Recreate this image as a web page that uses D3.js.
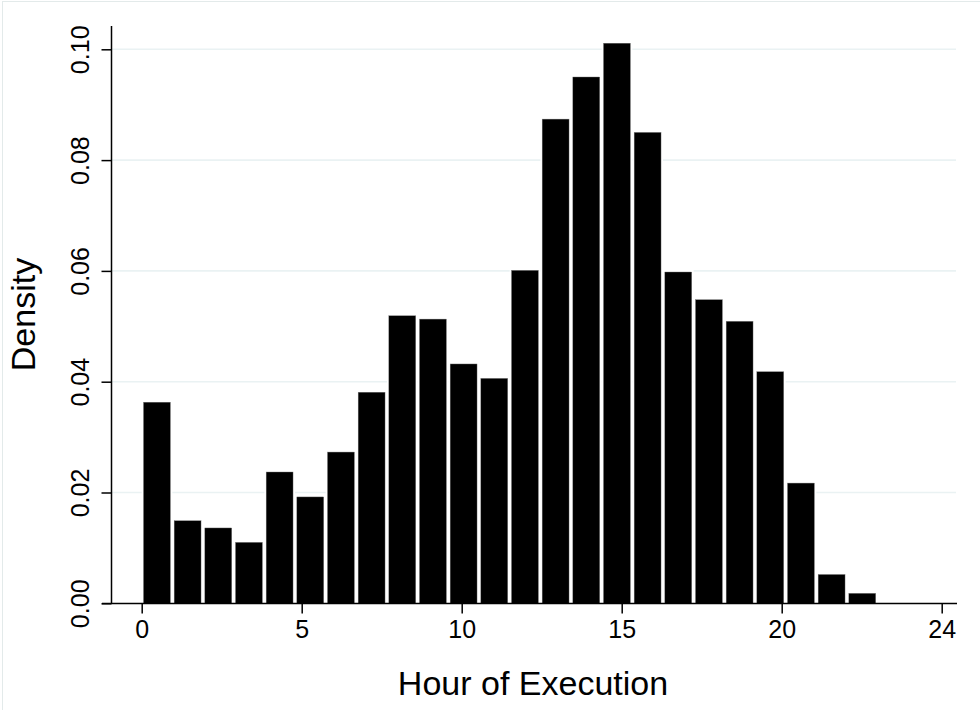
<!DOCTYPE html>
<html>
<head>
<meta charset="utf-8">
<script src="https://cdn.jsdelivr.net/npm/d3@7"></script>
<style>
  html, body { margin: 0; padding: 0; background: #fff; }
  svg { display: block; }
  text { font-family: "Liberation Sans", Arial, Helvetica, sans-serif; fill: #000; }
</style>
</head>
<body>
<svg id="chart" width="980" height="710"></svg>
<script>
// ---- data ----
const hourBins = [0,1,2,3,4,5,6,7,8,9,10,11,12,13,14,15,16,17,18,19,20,21,22,23];
const density = [0.0363, 0.0149, 0.0136, 0.0110, 0.0237, 0.0192, 0.0273, 0.0381,
                 0.0519, 0.0513, 0.0432, 0.0406, 0.0601, 0.0874, 0.0950, 0.1011,
                 0.0850, 0.0598, 0.0548, 0.0509, 0.0418, 0.0217, 0.0052, 0.0018];
const binWidth = 23 / 24;           // 24 bins over 0..23
const xTickValues = [0, 5, 10, 15, 20, 25];
const xTickLabels = ["0", "5", "10", "15", "20", "24"];
const yTickValues = [0, 0.02, 0.04, 0.06, 0.08, 0.10];
const yTickLabels = ["0.00", "0.02", "0.04", "0.06", "0.08", "0.10"];
const xTitle = "Hour of Execution";
const yTitle = "Density";

// ---- layout ----
const svg = d3.select("#chart");
const x = d3.scaleLinear().domain([0, 25]).range([141.7, 941.7]);
const y = d3.scaleLinear().domain([0, 0.10]).range([603.3, 49.3]);

// outer graph border
svg.append("rect").attr("x", 2.5).attr("y", 1.5).attr("width", 990).attr("height", 720)
  .attr("fill", "none").attr("stroke", "#e3eaea").attr("stroke-width", 1);

// gridlines
svg.append("g").selectAll("line").data(yTickValues.filter(d => d > 0)).join("line")
  .attr("x1", 112).attr("x2", 956)
  .attr("y1", d => y(d)).attr("y2", d => y(d))
  .attr("stroke", "#eaf2f3").attr("stroke-width", 1.6);

// bars
const bars = svg.append("g");
bars.selectAll("rect.pad").data(hourBins).join("rect").attr("class", "pad")
  .attr("x", (d) => x(d * binWidth))
  .attr("width", x(binWidth) - x(0))
  .attr("y", (d, i) => y(density[i]) - 2.5)
  .attr("height", (d, i) => y(0) - y(density[i]) + 2.5)
  .attr("fill", "#fff");
bars.selectAll("rect.bar").data(hourBins).join("rect").attr("class", "bar")
  .attr("x", (d) => x(d * binWidth) + 1.8)
  .attr("width", x(binWidth) - x(0) - 3.8)
  .attr("y", (d, i) => y(density[i]))
  .attr("height", (d, i) => y(0) - y(density[i]))
  .attr("fill", "#000")
  .attr("stroke", "#777").attr("stroke-width", 0.4);

// y axis
const yAxis = d3.axisLeft(y).tickValues(yTickValues).tickSize(10).tickPadding(0)
  .tickFormat((d, i) => yTickLabels[i]);
const gy = svg.append("g").attr("transform", "translate(111.5,0)").call(yAxis);
gy.select(".domain").remove();
gy.append("line").attr("x1", 0).attr("x2", 0).attr("y1", 26).attr("y2", 604)
  .attr("stroke", "#000").attr("stroke-width", 1.5);
gy.selectAll(".tick line").attr("stroke", "#000").attr("stroke-width", 1.5);
gy.selectAll(".tick text")
  .attr("x", 0).attr("dy", null).attr("y", 0)
  .attr("transform", "translate(-23,0) rotate(-90)")
  .attr("text-anchor", "middle")
  .style("font-size", "25px")
  .style("font-family", "'Liberation Sans', Arial, sans-serif");

// x axis
const xAxis = d3.axisBottom(x).tickValues(xTickValues).tickSize(10).tickPadding(7)
  .tickFormat((d, i) => xTickLabels[i]);
const gx = svg.append("g").attr("transform", "translate(0,603.5)").call(xAxis);
gx.select(".domain").remove();
gx.append("line").attr("x1", 102).attr("x2", 957).attr("y1", 0).attr("y2", 0)
  .attr("stroke", "#000").attr("stroke-width", 1.5);
gx.selectAll(".tick line").attr("stroke", "#000").attr("stroke-width", 1.5);
gx.selectAll(".tick text")
  .style("font-size", "25px")
  .style("font-family", "'Liberation Sans', Arial, sans-serif");

// titles
svg.append("text").attr("x", 533).attr("y", 695).attr("text-anchor", "middle")
  .style("font-size", "34px").text(xTitle);
svg.append("text").attr("transform", "translate(35,314.5) rotate(-90)")
  .attr("text-anchor", "middle").style("font-size", "34px").text(yTitle);
</script>
</body>
</html>
